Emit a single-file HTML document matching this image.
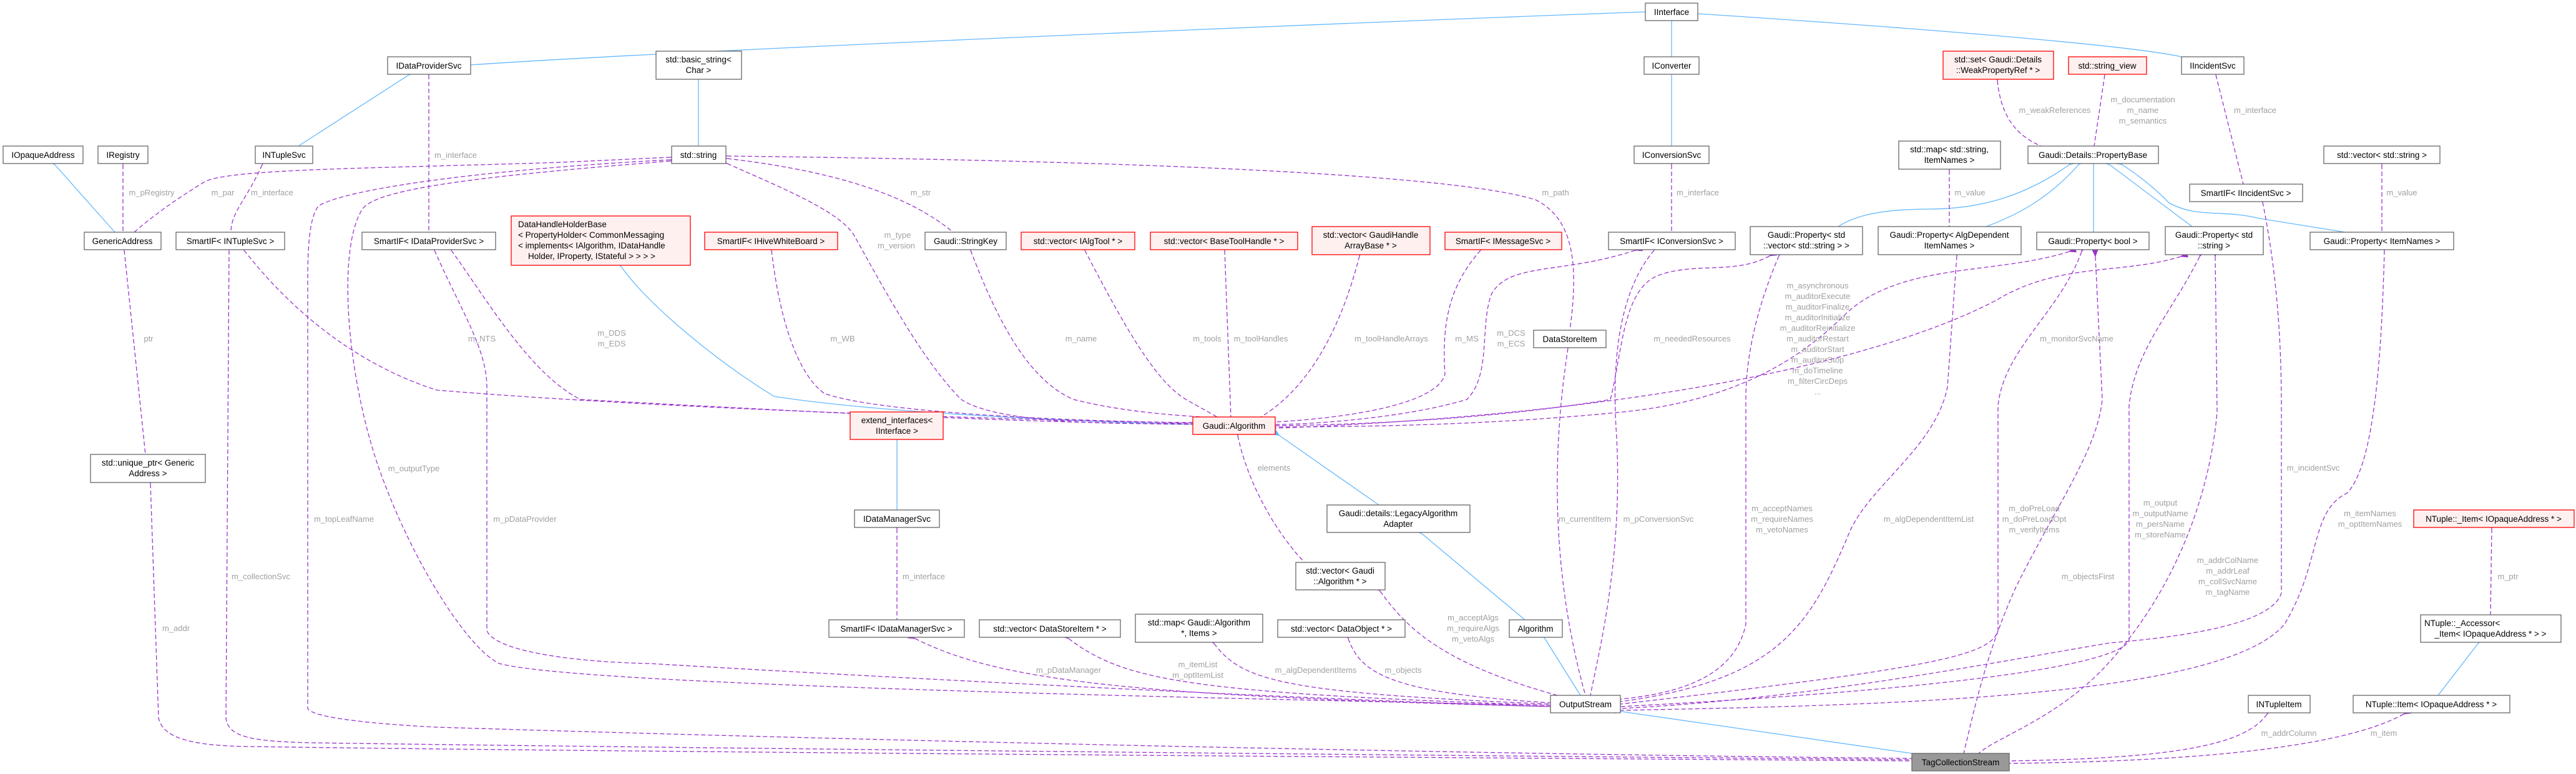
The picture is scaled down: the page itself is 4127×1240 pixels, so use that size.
<!DOCTYPE html>
<html><head><meta charset="utf-8"><style>
html,body{margin:0;padding:0;background:#fff;}
svg{display:block;}
.n{fill:#fff;stroke:#666;stroke-width:1.3;}
.r{fill:#fff0f0;stroke:#ff0000;stroke-width:1.3;}
.g{fill:#999;stroke:#666;stroke-width:1.3;}
.t{font-family:"Liberation Sans",sans-serif;font-size:13.5px;fill:#000;text-anchor:middle;}
.l{font-family:"Liberation Sans",sans-serif;font-size:13px;fill:#a0a0a0;text-anchor:middle;}
.b{fill:none;stroke:#63b8ff;stroke-width:1.3;marker-start:url(#bl);}
.p{fill:none;stroke:#9a32cd;stroke-width:1.3;stroke-dasharray:7,4;marker-start:url(#pp);}
</style></head><body>
<svg width="4127" height="1240" viewBox="0 0 4127 1240" xmlns="http://www.w3.org/2000/svg">
<defs>
<marker id="bl" markerWidth="12" markerHeight="10" refX="1" refY="5" orient="auto-start-reverse" markerUnits="userSpaceOnUse"><path d="M12,0 L0,5 L12,10 z" fill="#63b8ff"/></marker>
<marker id="pp" markerWidth="12" markerHeight="10" refX="1" refY="5" orient="auto-start-reverse" markerUnits="userSpaceOnUse"><path d="M12,0 L0,5 L12,10 z" fill="#9a32cd"/></marker>
</defs>
<rect width="4127" height="1240" fill="#fff"/>

<!-- blue edges -->
<path class="b" d="M2636,19 C2200,35 1100,80 754,104"/>
<path class="b" d="M2678,33 L2678,91"/>
<path class="b" d="M2678,118 L2678,234"/>
<path class="b" d="M2720,22 C3000,40 3400,70 3495,91"/>
<path class="b" d="M655,120 L478,234"/>
<path class="b" d="M1119,127 L1119,234"/>
<path class="b" d="M88,264 L184,372"/>
<path class="b" d="M995,427 C1040,490 1150,580 1240,635 C1400,660 1700,675 1911,680"/>
<path class="b" d="M1437,704 L1437,817"/>
<path class="b" d="M2050,698 L2209,809"/>
<path class="b" d="M2278,855 L2443,993"/>
<path class="b" d="M2475,1023 L2532,1114"/>
<path class="b" d="M2598,1140 L3063,1207"/>
<path class="b" d="M3315,264 C3250,310 3180,335 3090,335 C3000,335 2965,350 2945,363"/>
<path class="b" d="M3330,264 C3280,320 3230,345 3182,363"/>
<path class="b" d="M3354,264 L3354,372"/>
<path class="b" d="M3380,264 L3512,363"/>
<path class="b" d="M3400,264 C3440,290 3460,310 3475,325 C3520,350 3560,335 3620,350 L3757,372"/>
<path class="b" d="M3970,1031 L3906,1114"/>

<!-- purple edges -->
<path class="p" d="M197,264 L197,372"/>
<path class="p" d="M420,264 C395,320 370,340 370,372"/>
<path class="p" d="M687,120 L687,372"/>
<path class="p" d="M199,401 L233,728"/>
<path class="p" d="M3123,273 L3123,363"/>
<path class="p" d="M3816,264 L3816,372"/>
<path class="p" d="M3200,129 C3205,180 3225,215 3270,234"/>
<path class="p" d="M3372,120 L3355,234"/>
<path class="p" d="M3550,120 L3594,295"/>
<path class="p" d="M2678,264 L2678,372"/>
<path class="p" d="M1437,847 L1437,993"/>
<path class="p" d="M3992,847 L3990,985"/>
<path class="p" d="M1074,252 L900,260 C600,270 380,270 330,290 C280,320 240,350 215,372"/>
<path class="p" d="M1165,254 C1300,270 1440,300 1527,372"/>
<path class="p" d="M1165,262 C1250,300 1350,340 1370,380 C1420,470 1480,580 1540,640 C1600,680 1800,680 1911,678"/>
<path class="p" d="M1165,250 C1600,255 2300,270 2460,320 C2520,350 2530,420 2515,529"/>
<path class="p" d="M1236,401 C1250,520 1280,600 1320,630 C1400,660 1700,675 1911,677"/>
<path class="p" d="M1555,401 C1600,520 1650,610 1720,640 C1800,660 1880,665 1925,668"/>
<path class="p" d="M1738,401 C1800,520 1850,610 1900,640 L1950,668"/>
<path class="p" d="M1962,401 L1972,668"/>
<path class="p" d="M2178,410 C2150,520 2100,620 2020,668"/>
<path class="p" d="M2372,401 C2320,460 2310,520 2315,600 C2300,650 2150,670 2043,676"/>
<path class="p" d="M2620,401 C2500,440 2420,420 2390,470 C2370,520 2390,600 2350,640 C2250,670 2100,680 2043,680"/>
<path class="p" d="M2835,410 C2780,440 2720,420 2660,440 C2600,460 2600,560 2580,640 C2400,670 2200,680 2043,682"/>
<path class="p" d="M3315,403 C3200,440 3050,420 2960,500 C2900,560 2800,640 2600,660 C2400,680 2200,684 2043,684"/>
<path class="p" d="M3494,411 C3400,440 3300,420 3200,480 C3050,560 2700,660 2043,686"/>
<path class="p" d="M723,401 C780,480 850,600 930,640 C1300,660 1600,676 1911,680"/>
<path class="p" d="M391,401 C500,540 620,600 700,625 C1000,650 1500,670 1911,678"/>
<path class="p" d="M1983,698 C2000,780 2050,860 2090,901"/>
<path class="p" d="M2211,947 C2250,1000 2300,1060 2495,1114"/>
<path class="p" d="M2160,1023 C2180,1080 2230,1110 2484,1126"/>
<path class="p" d="M1945,1031 C1990,1090 2050,1110 2484,1128"/>
<path class="p" d="M1712,1023 C1800,1090 1900,1110 2484,1130"/>
<path class="p" d="M1466,1023 C1600,1090 1800,1115 2484,1132"/>
<path class="p" d="M2512,558 C2490,700 2480,900 2540,1114"/>
<path class="p" d="M2650,401 C2600,460 2580,560 2590,700 C2600,900 2560,1050 2548,1114"/>
<path class="p" d="M2850,410 C2820,480 2797,560 2797,640 L2797,1000 C2780,1080 2700,1110 2596,1120"/>
<path class="p" d="M3135,410 L3120,620 C3100,720 2990,780 2960,860 C2900,1000 2850,1090 2596,1124"/>
<path class="p" d="M3335,403 C3300,500 3210,560 3201,650 L3201,1010 C3190,1050 3100,1070 2596,1128"/>
<path class="p" d="M3524,411 C3480,500 3420,560 3411,650 L3411,1027 C3390,1060 3200,1100 2596,1132"/>
<path class="p" d="M3549,411 L3552,660 C3540,800 3480,950 3380,1060 C3300,1150 3200,1180 3170,1207"/>
<path class="p" d="M3357,411 L3368,640 C3360,720 3300,800 3230,940 C3180,1050 3160,1150 3146,1207"/>
<path class="p" d="M3625,324 C3640,400 3655,500 3655,650 L3655,950 C3640,1000 3500,1020 3380,1030 C3200,1060 2900,1120 2596,1135"/>
<path class="p" d="M3820,401 C3815,600 3800,750 3760,790 C3700,820 3720,900 3660,1000 C3560,1120 3000,1130 2596,1138"/>
<path class="p" d="M3632,1144 C3600,1190 3500,1215 3219,1219"/>
<path class="p" d="M3851,1144 C3750,1200 3500,1220 3219,1223"/>
<path class="p" d="M241,775 L254,1150 C260,1180 300,1195 400,1196 C1000,1205 2500,1215 3063,1219"/>
<path class="p" d="M367,401 L362,1150 C365,1180 400,1188 500,1190 C1200,1200 2500,1212 3063,1217"/>
<path class="p" d="M1074,256 C800,270 560,300 510,330 C495,350 493,400 493,450 L493,1135 C500,1150 600,1160 700,1165 C1500,1190 2500,1210 3063,1215"/>
<path class="p" d="M1074,258 C800,280 600,300 580,336 C540,400 555,600 607,750 C660,900 750,1040 800,1063 C900,1090 1500,1110 2484,1130"/>
<path class="p" d="M696,401 C740,500 780,560 780,620 L780,1010 C790,1040 900,1060 1040,1063 C1500,1090 2200,1125 2484,1132"/>

<!-- nodes -->
<rect class="n" x="2636" y="5" width="84" height="28"/><text class="t" x="2678" y="24">IInterface</text>
<rect class="n" x="621" y="91" width="133" height="28"/><text class="t" x="687" y="110">IDataProviderSvc</text>
<rect class="n" x="1051" y="82" width="137" height="45"/><text class="t" x="1119" y="100">std::basic_string&lt;</text><text class="t" x="1119" y="117">Char &gt;</text>
<rect class="n" x="2634" y="91" width="88" height="28"/><text class="t" x="2678" y="110">IConverter</text>
<rect class="r" x="3113" y="82" width="177" height="45"/><text class="t" x="3201" y="100">std::set&lt; Gaudi::Details</text><text class="t" x="3201" y="117">::WeakPropertyRef * &gt;</text>
<rect class="r" x="3314" y="91" width="125" height="28"/><text class="t" x="3376" y="110">std::string_view</text>
<rect class="n" x="3495" y="91" width="100" height="28"/><text class="t" x="3545" y="110">IIncidentSvc</text>
<rect class="n" x="5" y="234" width="128" height="28"/><text class="t" x="69" y="253">IOpaqueAddress</text>
<rect class="n" x="157" y="234" width="80" height="28"/><text class="t" x="197" y="253">IRegistry</text>
<rect class="n" x="409" y="234" width="92" height="28"/><text class="t" x="455" y="253">INTupleSvc</text>
<rect class="n" x="1076" y="234" width="87" height="28"/><text class="t" x="1119" y="253">std::string</text>
<rect class="n" x="2618" y="234" width="120" height="28"/><text class="t" x="2678" y="253">IConversionSvc</text>
<rect class="n" x="3042" y="226" width="163" height="45"/><text class="t" x="3123" y="244">std::map&lt; std::string,</text><text class="t" x="3123" y="261">ItemNames &gt;</text>
<rect class="n" x="3249" y="234" width="209" height="28"/><text class="t" x="3353" y="253">Gaudi::Details::PropertyBase</text>
<rect class="n" x="3723" y="234" width="186" height="28"/><text class="t" x="3816" y="253">std::vector&lt; std::string &gt;</text>
<rect class="n" x="3508" y="295" width="181" height="28"/><text class="t" x="3598" y="314">SmartIF&lt; IIncidentSvc &gt;</text>
<rect class="n" x="135" y="372" width="123" height="28"/><text class="t" x="196" y="391">GenericAddress</text>
<rect class="n" x="282" y="372" width="174" height="28"/><text class="t" x="369" y="391">SmartIF&lt; INTupleSvc &gt;</text>
<rect class="n" x="580" y="372" width="214" height="28"/><text class="t" x="687" y="391">SmartIF&lt; IDataProviderSvc &gt;</text>
<rect class="r" x="819" y="346" width="287" height="79"/>
<text class="t" x="830" y="364" style="text-anchor:start">DataHandleHolderBase</text>
<text class="t" x="830" y="381" style="text-anchor:start">&lt; PropertyHolder&lt; CommonMessaging</text>
<text class="t" x="830" y="398" style="text-anchor:start">&lt; implements&lt; IAlgorithm, IDataHandle</text>
<text class="t" x="846" y="415" style="text-anchor:start">Holder, IProperty, IStateful &gt; &gt; &gt; &gt;</text>
<rect class="r" x="1129" y="372" width="213" height="28"/><text class="t" x="1235" y="391">SmartIF&lt; IHiveWhiteBoard &gt;</text>
<rect class="n" x="1482" y="372" width="130" height="28"/><text class="t" x="1547" y="391">Gaudi::StringKey</text>
<rect class="r" x="1636" y="372" width="182" height="28"/><text class="t" x="1727" y="391">std::vector&lt; IAlgTool * &gt;</text>
<rect class="r" x="1843" y="372" width="236" height="28"/><text class="t" x="1961" y="391">std::vector&lt; BaseToolHandle * &gt;</text>
<rect class="r" x="2102" y="363" width="189" height="45"/><text class="t" x="2196" y="381">std::vector&lt; GaudiHandle</text><text class="t" x="2196" y="398">ArrayBase * &gt;</text>
<rect class="r" x="2315" y="372" width="187" height="28"/><text class="t" x="2408" y="391">SmartIF&lt; IMessageSvc &gt;</text>
<rect class="n" x="2577" y="372" width="203" height="28"/><text class="t" x="2678" y="391">SmartIF&lt; IConversionSvc &gt;</text>
<rect class="n" x="2804" y="363" width="180" height="45"/><text class="t" x="2894" y="381">Gaudi::Property&lt; std</text><text class="t" x="2894" y="398">::vector&lt; std::string &gt; &gt;</text>
<rect class="n" x="3009" y="363" width="229" height="45"/><text class="t" x="3123" y="381">Gaudi::Property&lt; AlgDependent</text><text class="t" x="3123" y="398">ItemNames &gt;</text>
<rect class="n" x="3263" y="372" width="180" height="28"/><text class="t" x="3353" y="391">Gaudi::Property&lt; bool &gt;</text>
<rect class="n" x="3469" y="363" width="157" height="45"/><text class="t" x="3547" y="381">Gaudi::Property&lt; std</text><text class="t" x="3547" y="398">::string &gt;</text>
<rect class="n" x="3701" y="372" width="230" height="28"/><text class="t" x="3816" y="391">Gaudi::Property&lt; ItemNames &gt;</text>
<rect class="n" x="2457" y="529" width="116" height="28"/><text class="t" x="2515" y="548">DataStoreItem</text>
<rect class="n" x="145" y="728" width="184" height="45"/><text class="t" x="237" y="746">std::unique_ptr&lt; Generic</text><text class="t" x="237" y="763">Address &gt;</text>
<rect class="r" x="1362" y="660" width="149" height="44"/><text class="t" x="1437" y="678">extend_interfaces&lt;</text><text class="t" x="1437" y="695">IInterface &gt;</text>
<rect class="r" x="1911" y="668" width="132" height="28"/><text class="t" x="1977" y="687">Gaudi::Algorithm</text>
<rect class="n" x="1369" y="817" width="136" height="28"/><text class="t" x="1437" y="836">IDataManagerSvc</text>
<rect class="n" x="2126" y="809" width="229" height="44"/><text class="t" x="2240" y="827">Gaudi::details::LegacyAlgorithm</text><text class="t" x="2240" y="844">Adapter</text>
<rect class="r" x="3867" y="817" width="257" height="28"/><text class="t" x="3995" y="836">NTuple::_Item&lt; IOpaqueAddress * &gt;</text>
<rect class="n" x="2076" y="901" width="143" height="44"/><text class="t" x="2147" y="919">std::vector&lt; Gaudi</text><text class="t" x="2147" y="936">::Algorithm * &gt;</text>
<rect class="n" x="1328" y="993" width="217" height="28"/><text class="t" x="1436" y="1012">SmartIF&lt; IDataManagerSvc &gt;</text>
<rect class="n" x="1569" y="993" width="226" height="28"/><text class="t" x="1682" y="1012">std::vector&lt; DataStoreItem * &gt;</text>
<rect class="n" x="1819" y="984" width="204" height="45"/><text class="t" x="1921" y="1002">std::map&lt; Gaudi::Algorithm</text><text class="t" x="1921" y="1019">*, Items &gt;</text>
<rect class="n" x="2047" y="993" width="204" height="28"/><text class="t" x="2149" y="1012">std::vector&lt; DataObject * &gt;</text>
<rect class="n" x="2418" y="993" width="85" height="28"/><text class="t" x="2460" y="1012">Algorithm</text>
<rect class="n" x="3878" y="985" width="225" height="44"/><text class="t" x="3884" y="1003" style="text-anchor:start">NTuple::_Accessor&lt;</text><text class="t" x="3990" y="1020">_Item&lt; IOpaqueAddress * &gt; &gt;</text>
<rect class="n" x="2484" y="1114" width="112" height="28"/><text class="t" x="2540" y="1133">OutputStream</text>
<rect class="n" x="3602" y="1114" width="99" height="28"/><text class="t" x="3651" y="1133">INTupleItem</text>
<rect class="n" x="3770" y="1114" width="251" height="28"/><text class="t" x="3895" y="1133">NTuple::Item&lt; IOpaqueAddress * &gt;</text>
<rect class="g" x="3063" y="1207" width="156" height="28"/><text class="t" x="3141" y="1226">TagCollectionStream</text>

<!-- labels -->
<text class="l" x="730" y="253">m_interface</text>
<text class="l" x="243" y="313">m_pRegistry</text>
<text class="l" x="357" y="313">m_par</text>
<text class="l" x="436" y="313">m_interface</text>
<text class="l" x="238" y="547">ptr</text>
<text class="l" x="772" y="547">m_NTS</text>
<text class="l" x="980" y="538">m_DDS</text>
<text class="l" x="980" y="555">m_EDS</text>
<text class="l" x="1475" y="313">m_str</text>
<text class="l" x="1438" y="381">m_type</text>
<text class="l" x="1436" y="398">m_version</text>
<text class="l" x="1350" y="547">m_WB</text>
<text class="l" x="1732" y="547">m_name</text>
<text class="l" x="1934" y="547">m_tools</text>
<text class="l" x="2020" y="547">m_toolHandles</text>
<text class="l" x="2229" y="547">m_toolHandleArrays</text>
<text class="l" x="2350" y="547">m_MS</text>
<text class="l" x="2421" y="538">m_DCS</text>
<text class="l" x="2421" y="555">m_ECS</text>
<text class="l" x="2492" y="313">m_path</text>
<text class="l" x="2720" y="313">m_interface</text>
<text class="l" x="2711" y="547">m_neededResources</text>
<text class="l" x="2912" y="462">m_asynchronous</text>
<text class="l" x="2912" y="479">m_auditorExecute</text>
<text class="l" x="2912" y="496">m_auditorFinalize</text>
<text class="l" x="2912" y="513">m_auditorInitialize</text>
<text class="l" x="2912" y="530">m_auditorReinitialize</text>
<text class="l" x="2912" y="547">m_auditorRestart</text>
<text class="l" x="2912" y="564">m_auditorStart</text>
<text class="l" x="2912" y="581">m_auditorStop</text>
<text class="l" x="2912" y="598">m_doTimeline</text>
<text class="l" x="2912" y="615">m_filterCircDeps</text>
<text class="l" x="2912" y="632">...</text>
<text class="l" x="3292" y="181">m_weakReferences</text>
<text class="l" x="3433" y="164">m_documentation</text>
<text class="l" x="3433" y="181">m_name</text>
<text class="l" x="3433" y="198">m_semantics</text>
<text class="l" x="3613" y="181">m_interface</text>
<text class="l" x="3156" y="313">m_value</text>
<text class="l" x="3848" y="313">m_value</text>
<text class="l" x="3327" y="547">m_monitorSvcName</text>
<text class="l" x="663" y="755">m_outputType</text>
<text class="l" x="551" y="836">m_topLeafName</text>
<text class="l" x="841" y="836">m_pDataProvider</text>
<text class="l" x="418" y="928">m_collectionSvc</text>
<text class="l" x="282" y="1011">m_addr</text>
<text class="l" x="1480" y="928">m_interface</text>
<text class="l" x="2041" y="754">elements</text>
<text class="l" x="1712" y="1078">m_pDataManager</text>
<text class="l" x="1919" y="1069">m_itemList</text>
<text class="l" x="1919" y="1086">m_optItemList</text>
<text class="l" x="2108" y="1078">m_algDependentItems</text>
<text class="l" x="2248" y="1078">m_objects</text>
<text class="l" x="2360" y="994">m_acceptAlgs</text>
<text class="l" x="2360" y="1011">m_requireAlgs</text>
<text class="l" x="2360" y="1028">m_vetoAlgs</text>
<text class="l" x="2539" y="836">m_currentItem</text>
<text class="l" x="2657" y="836">m_pConversionSvc</text>
<text class="l" x="2855" y="819">m_acceptNames</text>
<text class="l" x="2855" y="836">m_requireNames</text>
<text class="l" x="2855" y="853">m_vetoNames</text>
<text class="l" x="3090" y="836">m_algDependentItemList</text>
<text class="l" x="3259" y="819">m_doPreLoad</text>
<text class="l" x="3259" y="836">m_doPreLoadOpt</text>
<text class="l" x="3259" y="853">m_verifyItems</text>
<text class="l" x="3461" y="810">m_output</text>
<text class="l" x="3461" y="827">m_outputName</text>
<text class="l" x="3461" y="844">m_persName</text>
<text class="l" x="3461" y="861">m_storeName</text>
<text class="l" x="3345" y="928">m_objectsFirst</text>
<text class="l" x="3569" y="902">m_addrColName</text>
<text class="l" x="3569" y="919">m_addrLeaf</text>
<text class="l" x="3569" y="936">m_collSvcName</text>
<text class="l" x="3569" y="953">m_tagName</text>
<text class="l" x="3706" y="754">m_incidentSvc</text>
<text class="l" x="3797" y="827">m_itemNames</text>
<text class="l" x="3797" y="844">m_optItemNames</text>
<text class="l" x="4018" y="928">m_ptr</text>
<text class="l" x="3667" y="1179">m_addrColumn</text>
<text class="l" x="3819" y="1179">m_item</text>
</svg>
</body></html>
